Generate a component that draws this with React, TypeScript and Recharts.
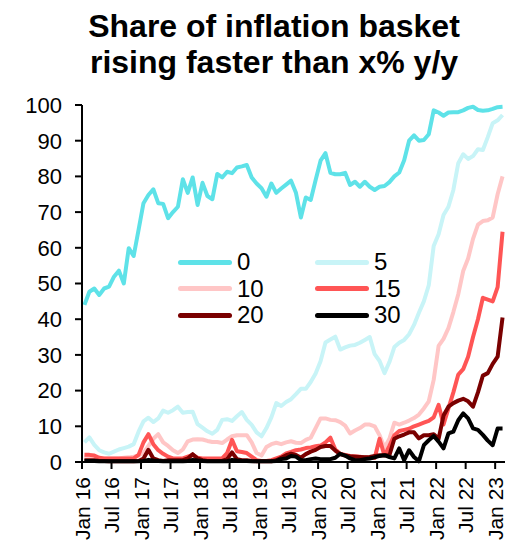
import { Line, LineChart, XAxis, YAxis } from 'recharts'

// Half-yearly tick labels, Jan 2016 .. Jan 2023
const tickLabels = [
  'Jan 16', 'Jul 16', 'Jan 17', 'Jul 17', 'Jan 18', 'Jul 18', 'Jan 19', 'Jul 19',
  'Jan 20', 'Jul 20', 'Jan 21', 'Jul 21', 'Jan 22', 'Jul 22', 'Jan 23',
]

// Monthly share of basket (%) rising faster than each threshold, Jan 16 .. Feb 23
const share0 = [
  44, 47.7, 48.6, 46.8, 48.6, 49.1, 51.9, 53.6, 50, 59.9,
  57.7, 65, 72.5, 74.8, 76.4, 72.5, 72.3, 68.3, 70, 71.5,
  79.2, 75.4, 79.7, 72, 78.2, 74.5, 73.6, 80.7, 79.7, 81.3,
  80.9, 82.5, 82.8, 83.2, 79.7, 78, 76.7, 74.3, 78, 75.4,
  76.6, 77.7, 78.8, 75.4, 68.5, 74.1, 73.4, 79, 84.4, 86.5,
  81, 80.6, 80.6, 81, 77.6, 78.5, 77.1, 78.5, 77.1, 76.2,
  77.1, 77.3, 78.4, 80, 81.1, 84.5, 90, 91.5, 90, 90.2,
  91.8, 98.5, 97.9, 97, 97.9, 98, 98, 98.5, 99.2, 99.5,
  98.6, 98.4, 98.5, 98.9, 99.4, 99.5,
]
const share5 = [
  5.5, 6.9, 4.8, 3.3, 2.7, 2.3, 2.9, 3.5, 3.9, 4.3,
  5, 8.5, 11.4, 12.4, 11.2, 12.2, 14.4, 13.8, 14.5, 15.5,
  13.8, 14, 14.1, 10.6, 9.6, 8.6, 7.9, 9, 11.8, 12,
  11.5, 12.8, 14, 11.8, 10.4, 8.3, 7.2, 9.5, 12.5, 16.5,
  15.7, 16.8, 17.6, 19, 20.5, 20.5, 22.4, 24.8, 28.2, 33.5,
  34.3, 35.1, 31.5, 32.1, 32.6, 32.8, 33.4, 34.2, 35, 30.2,
  28.3, 24.9, 28, 32.2, 33.4, 34.2, 35.8, 38.4, 41.8, 45,
  49.5, 60.5, 63.8, 69.2, 71.5, 76.2, 83.7, 86.2, 84.9, 85.7,
  87.6, 87.4, 91, 94.9, 95.7, 97.2,
]
const share10 = [
  1.5, 1.2, 1, 1, 1, 1, 1, 1, 1.2, 1.3,
  1.5, 1.8, 2.5, 4.5, 6.5, 7.8, 5.5, 4.5, 3.3, 2.5,
  3.5, 5.8, 6.3, 6.4, 6.3, 5.9, 5.6, 5.6, 5.3, 6.3,
  7.2, 7.5, 7.5, 7.5, 5.5, 2.5, 1.8, 4.2, 5, 5.4,
  5, 5.5, 5.8, 5.4, 5.3, 6.2, 6.8, 9.5, 12.2, 12.2,
  11.8, 11.7, 11.2, 10.2, 8, 8.8, 9.5, 10.5, 10.5, 10,
  7.5, 4, 6.5, 11, 10.5, 11, 11.6, 12.3, 13.3, 15,
  17, 23, 32.5, 34.5, 37.5, 42, 47, 53.5, 57, 62.5,
  66.5, 67.5, 67.7, 68.5, 75, 80,
]
const share15 = [
  2, 2, 1.8, 1.2, 1, 1, 1, 1, 1, 1,
  1, 2, 5.5, 7.8, 5, 3.3, 2.3, 1.5, 1, 1,
  1, 1.5, 2, 1.2, 1, 1, 1, 1, 1, 2.5,
  6.2, 3, 2.8, 2.5, 1.5, 0.5, 0.3, 0.3, 0.5, 1,
  1.5, 2.4, 2.8, 3.3, 3.5, 3.9, 4.1, 4.4, 4.6, 5.5,
  6.8, 3.5, 2.3, 2, 1.7, 1.6, 1.5, 1.3, 1.2, 1.1,
  6.5, 1.8, 4.5, 7.5, 8.7, 9, 9.3, 10, 10.5, 11,
  11.5, 12.5, 16, 10.5, 15, 19.5, 24.5, 26, 29.5, 35,
  40, 46, 45.5, 45, 49, 64.5,
]
const share20 = [
  0.5, 0.5, 0.5, 0.3, 0.3, 0.2, 0.2, 0.2, 0.2, 0.2,
  0.2, 0.3, 1, 3.4, 1, 0.5, 0.3, 0.5, 0.5, 0.5,
  0.5, 1, 2.2, 1, 0.5, 0.3, 0.3, 0.3, 0.3, 0.8,
  2.7, 0.8, 0.5, 0.5, 0.3, 0.2, 0.2, 0.2, 0.2, 0.5,
  1.2, 1.9, 2.3, 2, 1.2, 2.2, 2.9, 3.4, 4.2, 4.5,
  4.5, 3.2, 2.2, 1.8, 1.6, 1.5, 1.4, 1.3, 1.4, 1.7,
  1.9, 1.9, 1.9, 6.5, 7.2, 7.7, 8.3, 8.3, 6.6, 7.5,
  7.5, 7.8, 6.5, 13, 15.5, 16.5, 17.2, 17.7, 17, 15.5,
  19.5, 24.2, 24.9, 27.5, 29.5, 40.5,
]
const share30 = [
  0.3, 0.3, 0.3, 0.2, 0.2, 0.2, 0.2, 0.2, 0.2, 0.2,
  0.2, 0.2, 0.3, 0.6, 0.4, 0.3, 0.2, 0.2, 0.2, 0.2,
  0.2, 0.3, 0.6, 0.4, 0.3, 0.2, 0.2, 0.2, 0.2, 0.2,
  0.6, 0.4, 0.3, 0.3, 0.2, 0.2, 0.2, 0.2, 0.2, 0.3,
  0.8, 1, 1.7, 1.5, 0.5, 0.5, 0.8, 1, 0.8, 0.8,
  0.8, 1.2, 2.3, 1.8, 1, 0.5, 0.5, 0.8, 1, 1.3,
  1.7, 1.9, 1.4, 1, 3.8, 0.5, 3.3, 1.4, 0.2, 4.7,
  6.1, 7.3, 5.7, 3.8, 8, 8.5, 11.7, 13.6, 12.2, 9.4,
  9, 7.6, 6, 4.7, 9.4, 9.4,
]

const series = [
  { key: 's0', name: '0', color: '#5EE2E8', values: share0 },
  { key: 's5', name: '5', color: '#C8F4F7', values: share5 },
  { key: 's10', name: '10', color: '#FFC6C6', values: share10 },
  { key: 's15', name: '15', color: '#FF5555', values: share15 },
  { key: 's20', name: '20', color: '#7A0000', values: share20 },
  { key: 's30', name: '30', color: '#000000', values: share30 },
]

const data = share0.map((_, i) => {
  const row: Record<string, number> = { i }
  series.forEach((s) => {
    row[s.key] = s.values[i]
  })
  return row
})

// ticks sit on the month boundaries, every six months
const tickPositions = tickLabels.map((_, k) => k * 6 - 0.5)

const font = '"Liberation Sans", Arial, sans-serif'

function MonthTick({ x, y, payload }: any) {
  const label = tickLabels[Math.round((payload.value + 0.5) / 6)]
  return (
    <g transform={`translate(${x},${y})`}>
      <text transform="rotate(-90)" textAnchor="end" dy="0.36em" fontSize={21} fill="#000" fontFamily={font}>
        {label}
      </text>
    </g>
  )
}

function LegendBox() {
  return (
    <>
      {series.map((s, idx) => {
        const col = idx % 2
        const row = Math.floor(idx / 2)
        return (
          <div
            key={s.key}
            style={{
              position: 'absolute',
              left: 178 + col * 137,
              top: 249 + row * 26.5,
              height: 26,
              display: 'flex',
              alignItems: 'center',
              fontFamily: font,
              fontSize: 24,
              lineHeight: '26px',
            }}
          >
            <div style={{ width: 54, height: 5, borderRadius: 3, background: s.color, marginRight: 5 }} />
            <span>{s.name}</span>
          </div>
        )
      })}
    </>
  )
}

export default function App() {
  return (
    <div style={{ position: 'absolute', left: 0, top: 0, width: 516, height: 548, background: '#fff' }}>
      <div
        style={{
          position: 'absolute',
          left: 24,
          top: 8,
          width: 500,
          textAlign: 'center',
          fontFamily: font,
          fontWeight: 'bold',
          fontSize: 32,
          lineHeight: '36px',
          color: '#000',
        }}
      >
        Share of inflation basket
        <br />
        rising faster than x% y/y
      </div>
      <LineChart width={516} height={548} data={data} margin={{ top: 105, right: 11, bottom: 0, left: 0 }}>
        <XAxis
          dataKey="i"
          type="number"
          domain={[-0.5, 85.5]}
          ticks={tickPositions}
          interval={0}
          height={86}
          tickSize={7}
          tickMargin={8}
          tick={<MonthTick />}
          axisLine={{ stroke: '#000', strokeWidth: 2 }}
          tickLine={{ stroke: '#000', strokeWidth: 2 }}
        />
        <YAxis
          domain={[0, 100]}
          ticks={[0, 10, 20, 30, 40, 50, 60, 70, 80, 90, 100]}
          interval={0}
          width={82}
          tickSize={7}
          tickMargin={13}
          tick={{ fontSize: 22, fill: '#000', fontFamily: font }}
          axisLine={{ stroke: '#000', strokeWidth: 2 }}
          tickLine={{ stroke: '#000', strokeWidth: 2 }}
        />
        {series.map((s) => (
          <Line
            key={s.key}
            dataKey={s.key}
            type="linear"
            stroke={s.color}
            strokeWidth={4}
            strokeLinejoin="round"
            dot={false}
            isAnimationActive={false}
          />
        ))}
      </LineChart>
      <LegendBox />
    </div>
  )
}
